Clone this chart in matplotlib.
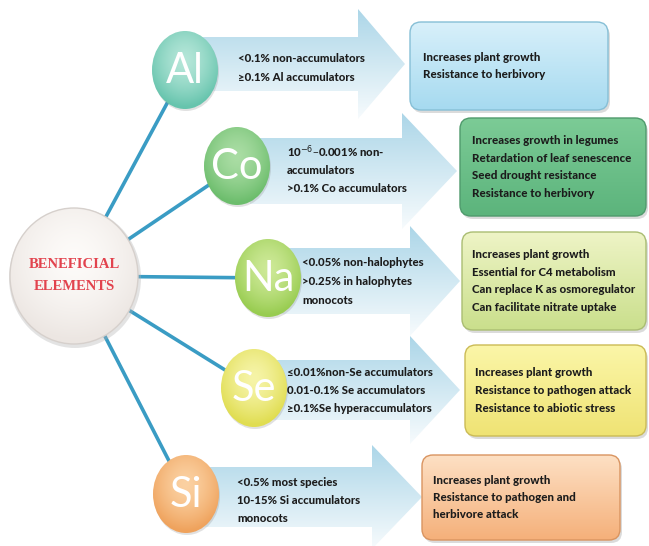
import numpy as np
import matplotlib.pyplot as plt
from matplotlib.patches import Ellipse, Polygon, FancyBboxPatch
from matplotlib.colors import to_rgb


# ------------------------------------------------------------
# content
# ------------------------------------------------------------

center_lines = ["BENEFICIAL", "ELEMENTS"]

elements = ["Al", "Co", "Na", "Se", "Si"]

arrow_texts = [
    ["<0.1% non-accumulators", "\u22650.1% Al accumulators"],
    ["10$^{-6}$\u20130.001% non-", "accumulators", ">0.1% Co accumulators"],
    ["<0.05% non-halophytes", ">0.25% in halophytes", "monocots"],
    ["\u22640.01%non-Se accumulators", "0.01-0.1% Se accumulators",
     "\u22650.1%Se hyperaccumulators"],
    ["<0.5% most species", "10-15% Si accumulators", "monocots"],
]

box_texts = [
    ["Increases plant growth", "Resistance to herbivory"],
    ["Increases growth in legumes", "Retardation of leaf senescence",
     "Seed drought resistance", "Resistance to herbivory"],
    ["Increases plant growth", "Essential for C4 metabolism",
     "Can replace K as osmoregulator", "Can facilitate nitrate uptake"],
    ["Increases plant growth", "Resistance to pathogen attack",
     "Resistance to abiotic stress"],
    ["Increases plant growth", "Resistance to pathogen and",
     "herbivore attack"],
]

# ------------------------------------------------------------
# layout (pixel coordinates, y down)
# ------------------------------------------------------------

circle_xy = [(185, 70), (237, 166), (268, 278), (254, 388), (186, 494)]
circle_base = ["#66c4ad", "#6cbd6c", "#98cc50", "#e0dd50", "#efa25c"]
circle_light = ["#b4e6d8", "#aadda4", "#cde997", "#f6f4a8", "#fbd1a2"]

# x0, head start, tip, y center, body half height, head half height
arrow_geom = [
    (200, 358, 405, 64, 27, 55),
    (250, 402, 457, 171, 33, 58),
    (280, 410, 460, 281, 33, 55),
    (268, 410, 460, 390, 30, 54),
    (200, 372, 422, 497, 30, 52),
]
arrow_text_xy = [(238, 59), (287, 152), (302, 263), (287, 372), (237, 482)]

# x0, x1, y0, y1
box_geom = [
    (410, 608, 22, 110),
    (460, 646, 118, 216),
    (462, 646, 232, 330),
    (465, 646, 345, 436),
    (422, 620, 455, 540),
]
box_top = ["#d8f0fa", "#7ccb96", "#eef4c6", "#fbf6a8", "#fde0c4"]
box_bot = ["#a6daf0", "#5cb47c", "#cadf8c", "#efe374", "#f5b07a"]
box_edge = ["#86bfd6", "#4f9a6c", "#aabd72", "#cbbb55", "#d99460"]
box_text_x = [423, 472, 472, 475, 433]

line_color = "#3a9cc4"
main_xy = (74, 276)

plt.rcParams["font.family"] = ["Lato", "DejaVu Sans"]

fig = plt.figure(figsize=(6.49, 5.46), dpi=100)
ax = fig.add_axes([0, 0, 1, 1])
ax.set_xlim(0, 649)
ax.set_ylim(546, 0)
ax.axis("off")


def gradient_fill(patch, c_top, c_bot, x0, x1, y0, y1, z):
    ax.add_patch(patch)
    t = np.linspace(0, 1, 128)[:, None, None]
    img = np.array(to_rgb(c_top)) * (1 - t) + np.array(to_rgb(c_bot)) * t
    im = ax.imshow(img, extent=(x0, x1, y1, y0), aspect="auto",
                   zorder=z, interpolation="bilinear")
    im.set_clip_path(patch)


def radial_fill(patch, cx, cy, rx, ry, c_in, c_out, z):
    ax.add_patch(patch)
    xs = np.linspace(-1, 1, 120)
    X, Y = np.meshgrid(xs, xs)
    r = np.sqrt(X ** 2 + (Y + 0.25) ** 2)
    r = np.clip(r / 1.2, 0, 1)[..., None] ** 1.5
    img = np.array(to_rgb(c_in)) * (1 - r) + np.array(to_rgb(c_out)) * r
    im = ax.imshow(img, extent=(cx - rx, cx + rx, cy + ry, cy - ry),
                   aspect="auto", zorder=z, interpolation="bilinear")
    im.set_clip_path(patch)


# connector lines from the central circle
for (ex, ey) in circle_xy:
    ax.plot([main_xy[0], ex], [main_xy[1], ey], color=line_color,
            lw=2.6, zorder=1, solid_capstyle="butt")

# arrows
for (x0, xh, xt, yc, hb, hh), lines, (tx, ty) in zip(arrow_geom, arrow_texts,
                                                    arrow_text_xy):
    pts = [(x0, yc - hb), (xh, yc - hb), (xh, yc - hh), (xt, yc),
           (xh, yc + hh), (xh, yc + hb), (x0, yc + hb)]
    poly = Polygon(pts, closed=True, facecolor="none", edgecolor="none")
    gradient_fill(poly, "#acd6e8", "#f7fbfd", x0, xt, yc - hh, yc + hh, 2)
    for i, s in enumerate(lines):
        ax.text(tx, ty + i * 18.5, s, fontsize=8.2, fontweight="black",
                color="#1c1c1c", va="center", ha="left", zorder=6)

# boxes on the right
for (x0, x1, y0, y1), ct, cb, ce, lines, tx in zip(box_geom, box_top, box_bot,
                                                   box_edge, box_texts,
                                                   box_text_x):
    shadow = FancyBboxPatch((x0 + 2, y0 + 3), x1 - x0, y1 - y0,
                            boxstyle="round,pad=0,rounding_size=11",
                            facecolor="#9a9a9a", edgecolor="none",
                            alpha=0.35, zorder=2)
    ax.add_patch(shadow)
    box = FancyBboxPatch((x0, y0), x1 - x0, y1 - y0,
                         boxstyle="round,pad=0,rounding_size=11",
                         facecolor="none", edgecolor="none")
    gradient_fill(box, ct, cb, x0, x1, y0, y1, 3)
    ax.add_patch(FancyBboxPatch((x0, y0), x1 - x0, y1 - y0,
                                boxstyle="round,pad=0,rounding_size=11",
                                facecolor="none", edgecolor=ce, lw=1.0,
                                zorder=4))
    yc = (y0 + y1) / 2
    n = len(lines)
    for i, s in enumerate(lines):
        ax.text(tx, yc + (i - (n - 1) / 2) * 17.5, s, fontsize=8.3,
                fontweight="black", color="#1c1c1c", va="center",
                ha="left", zorder=6)

# element circles
for (cx, cy), name, cb, cl in zip(circle_xy, elements, circle_base,
                                  circle_light):
    rx, ry = 33, 39
    ax.add_patch(Ellipse((cx + 1, cy + 2), 2 * rx, 2 * ry,
                         facecolor="#888888", alpha=0.25, edgecolor="none",
                         zorder=4))
    ell = Ellipse((cx, cy), 2 * rx, 2 * ry, facecolor="none",
                  edgecolor="none")
    radial_fill(ell, cx, cy, rx, ry, cl, cb, 5)
    ax.text(cx, cy + 1, name, fontsize=30, fontweight="normal",
            color="white", ha="center", va="center", zorder=6)

# central circle
mx, my = main_xy
ax.add_patch(Ellipse((mx + 1, my + 2), 132, 140, facecolor="#b0b0b0",
                     alpha=0.35, edgecolor="none", zorder=4))
main_ell = Ellipse((mx, my), 128, 136, facecolor="none", edgecolor="none")
radial_fill(main_ell, mx, my, 64, 68, "#fdfbf9", "#ece6e2", 5)
ax.add_patch(Ellipse((mx, my), 128, 136, facecolor="none",
                     edgecolor="#d6d0cc", lw=1.0, zorder=5))
for i, s in enumerate(center_lines):
    ax.text(mx, my - 11 + i * 21, s, fontsize=10.5, fontweight="bold",
            color="#e2434e", family="Liberation Serif", ha="center",
            va="center", zorder=6)

fig.savefig("out.png", dpi=100)
